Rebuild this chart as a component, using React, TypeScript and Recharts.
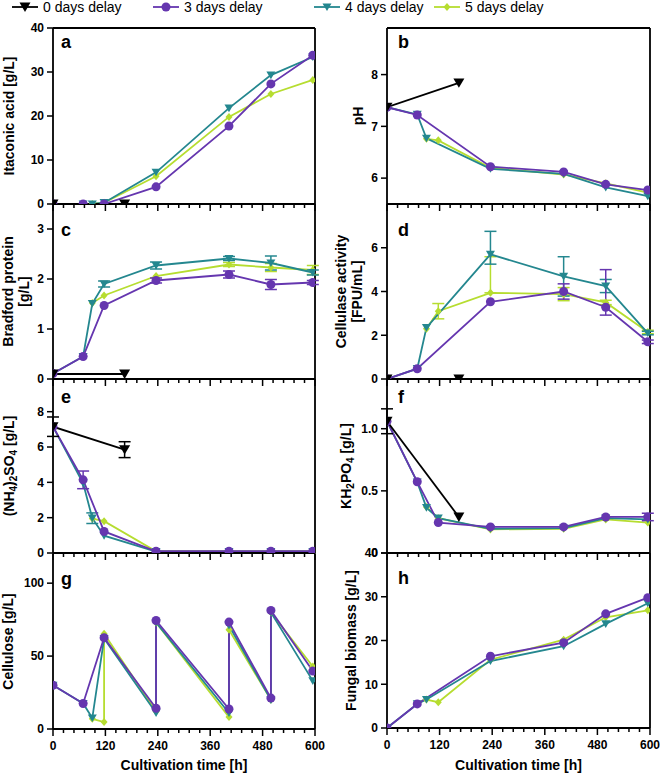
import React from "react";
import { LineChart, Line, XAxis, YAxis, ReferenceLine, ErrorBar } from "recharts";

const FONT = '"Liberation Sans", Arial, Helvetica, sans-serif';
const PURPLE = "#6536AF";
const TEAL = "#24878F";
const LIME = "#B6DD30";
const BLACK = "#000000";

// sampling times [h] per series
const t0 = [0, 164];
const t3 = [0, 69, 117, 236, 403, 499, 595];
const t4 = [0, 69, 90, 117, 236, 403, 499, 595];
const t5 = [90, 117, 236, 403, 499, 595];

// a - itaconic acid [g/L]
const ita0 = [0, 0];
const ita3 = [0, 0, 0, 3.9, 17.7, 27.3, 33.8];
const ita4 = [0, 0, 0, 0.3, 7.2, 21.8, 29.3, 33.4];
const ita5 = [0, 0.3, 6.3, 19.8, 25.0, 28.2];

// b - pH
const ph0 = [7.37, 7.84];
const ph3 = [7.37, 7.22, null, 6.22, 6.12, 5.88, 5.77];
const ph4 = [7.37, 7.23, 6.77, null, 6.18, 6.08, 5.82, 5.65];
const ph5 = [6.76, 6.73, 6.2, 6.07, 5.9, 5.72];

// c - bradford protein [g/L]
const bp0 = [0.1, 0.1];
const bp3 = [0.11, 0.45, 1.47, 1.97, 2.09, 1.89, 1.93];
const bp4 = [0.11, 0.45, 1.51, 1.9, 2.27, 2.41, 2.32, 2.13];
const bp5 = [1.52, 1.67, 2.06, 2.29, 2.23, 2.18];
const bpErr3 = [null, null, null, 0.05, 0.07, 0.1, 0.04];
const bpErr4 = [null, null, null, 0.06, 0.07, 0.04, 0.14, 0.05];
const bpErr5 = [null, null, null, 0.04, 0.08, 0.09];

// d - cellulase activity [FPU/mL]
const ca0 = [0, 0];
const ca3 = [0, 0.47, null, 3.53, 4.0, 3.28, 1.7];
const ca4 = [0, 0.47, 2.35, null, 5.7, 4.69, 4.25, 2.1];
const ca5 = [2.3, 3.1, 3.94, 3.88, 3.5, 2.15];
const caErr3 = [null, null, null, null, 0.35, [0.36, 1.72], 0.08];
const caErr4 = [null, null, null, null, [0.45, 1.05], 0.9, 0.3, 0.08];
const caErr5 = [null, 0.35, [0, 1.65], 0.3, 0.1, 0.08];

// e - (NH4)2SO4 [g/L]
const am0 = [7.15, 5.85];
const am3 = [7.15, 4.14, 1.22, 0.1, 0.1, 0.1, 0.1];
const am4 = [7.15, 3.95, 1.97, 0.98, 0.08, 0.08, 0.08, 0.08];
const am5 = [1.95, 1.8, 0.1, 0.1, 0.1, 0.1];
const amErr0 = [0.55, 0.45];
const amErr3 = [null, 0.5, null, null, null, null, null];
const amErr4 = [null, null, 0.3, null, null, null, null, null];

// f - KH2PO4 [g/L]
const kp0 = [1.06, 0.29];
const kp3 = [1.06, 0.573, 0.245, 0.21, 0.21, 0.29, 0.29];
const kp4 = [1.06, 0.57, 0.365, 0.28, 0.195, 0.2, 0.28, 0.27];
const kp5 = [0.37, 0.28, 0.19, 0.195, 0.27, 0.245];
const kpErr0 = [0.1, null];
const kpErr3 = [null, null, null, null, null, null, 0.03];

// g - cellulose [g/L] (feeding gives repeated times)
const tc3 = [0, 69, 117, 236, 236, 403, 403, 499, 499, 595];
const cel3 = [30, 17.5, 62.6, 14.2, 74.4, 13.7, 73.3, 21.2, 81.3, 39.7];
const tc4 = [0, 69, 90, 117, 236, 236, 403, 403, 499, 499, 595];
const cel4 = [30, 17.5, 7.5, 62, 11, 73, 11, 71, 20, 80, 33];
const tc5 = [90, 117, 117, 236, 236, 403, 403, 499, 499, 595];
const cel5 = [7, 4.8, 65.3, 12, 73, 8.2, 68, 20, 80, 42.9];

// h - fungal biomass [g/L]
const fb3 = [0, 5.5, null, 16.4, 19.5, 26.1, 29.8];
const fb4 = [0, 5.5, 6.5, null, 15.3, 18.7, 23.8, 28.5];
const fb5 = [6.5, 5.9, 15.6, 20.2, 25.3, 26.9];

const xTicks = Array.from({ length: 26 }, (_, i) => i * 24);

type Shape = "circle" | "tri" | "bigtri" | "diamond";

function pts(times: number[], vals: (number | null)[], errs?: any[]) {
  return times
    .map((t, i) => ({ t, v: vals[i], e: errs ? errs[i] : null }))
    .filter((p) => p.v !== null);
}

function Marker({ shape, color, cx, cy }: { shape: Shape; color: string; cx: number; cy: number }) {
  if (shape === "circle") return <circle cx={cx} cy={cy} r={4.5} fill={color} />;
  if (shape === "diamond")
    return <polygon points={`${cx},${cy - 4} ${cx + 3.5},${cy} ${cx},${cy + 4} ${cx - 3.5},${cy}`} fill={color} />;
  const s = shape === "bigtri" ? 5.5 : 4.5;
  return <polygon points={`${cx - s},${cy - s * 0.8} ${cx + s},${cy - s * 0.8} ${cx},${cy + s * 0.9}`} fill={color} />;
}

const makeDot = (shape: Shape, color: string) => (p: any) => {
  if (p.cx == null || p.cy == null) return <g key={p.index} />;
  return <Marker key={p.index} shape={shape} color={color} cx={p.cx} cy={p.cy} />;
};

function XTick(props: any) {
  const { x, y, payload, showLabel } = props;
  const v = payload.value;
  const major = v % 120 === 0;
  return (
    <g>
      <line x1={x} x2={x} y1={y} y2={y + (major ? 7 : 4)} stroke="#000" strokeWidth={1.5} />
      {showLabel && major ? (
        <text x={x} y={y + 21} textAnchor="middle" fontFamily={FONT} fontWeight={700} fontSize={12} fill="#000">
          {v}
        </text>
      ) : null}
    </g>
  );
}

type Series = { data: any[]; color: string; shape: Shape; err?: boolean };

type PanelProps = {
  col: 0 | 1;
  top: number;
  bottom: number;
  domain: [number, number];
  ticks: number[];
  fmt?: (v: number) => string;
  title: React.ReactNode[];
  titleX: number;
  letter: string;
  letterY: number;
  series: Series[];
  last?: boolean;
  topLine?: boolean;
};

function Panel(p: PanelProps) {
  const left = p.col === 0 ? 0 : 330;
  const yW = p.col === 0 ? 53 : 57;
  const mr = p.col === 0 ? 15 : 10;
  const xH = p.last ? 47 : 10;
  const h = 10 + (p.bottom - p.top) + xH;
  const offY = p.top - 10;
  const plotL = left + yW;
  const plotR = 330 + left - mr;
  const cy = (p.top + p.bottom) / 2 - offY;
  const n = p.title.length;

  const yLabel = () => (
    <g>
      <text
        transform={`translate(${p.titleX - left},${cy}) rotate(-90)`}
        textAnchor="middle"
        fontFamily={FONT}
        fontWeight={700}
        fontSize={14}
        fill="#000"
      >
        {p.title.map((l, i) => (
          <tspan key={i} x={0} y={(i - (n - 1) / 2) * 16 + 5}>
            {l}
          </tspan>
        ))}
      </text>
      <text
        x={(p.col === 0 ? 61 : 398) - left}
        y={p.letterY - offY}
        fontFamily={FONT}
        fontWeight={700}
        fontSize={18}
        fill="#000"
      >
        {p.letter}
      </text>
    </g>
  );

  const xLabel = () =>
    p.last ? (
      <text
        x={(plotL + plotR) / 2 - left}
        y={770 - offY}
        textAnchor="middle"
        fontFamily={FONT}
        fontWeight={700}
        fontSize={14}
        fill="#000"
      >
        Cultivation time [h]
      </text>
    ) : (
      <g />
    );

  return (
    <div style={{ position: "absolute", left, top: offY }}>
      <LineChart width={330} height={h} margin={{ top: 10, right: mr, bottom: 0, left: 0 }}>
        <XAxis
          type="number"
          dataKey="t"
          domain={[0, 600]}
          ticks={xTicks}
          interval={0}
          allowDataOverflow
          height={xH}
          tickSize={0}
          tickMargin={0}
          tickLine={false}
          axisLine={{ stroke: "#000", strokeWidth: 1.8 }}
          tick={(tp: any) => <XTick {...tp} showLabel={!!p.last} />}
          label={xLabel}
        />
        <YAxis
          type="number"
          domain={p.domain}
          ticks={p.ticks}
          interval={0}
          allowDataOverflow
          width={yW}
          tickSize={6}
          tickMargin={3}
          tickFormatter={p.fmt}
          axisLine={{ stroke: "#000", strokeWidth: 1.8 }}
          tickLine={{ stroke: "#000", strokeWidth: 1.5 }}
          tick={{ fill: "#000", fontSize: 12, fontWeight: 700, fontFamily: FONT }}
          label={yLabel}
        />
        <ReferenceLine x={600} stroke="#000" strokeWidth={1.8} />
        {p.topLine ? <ReferenceLine y={p.domain[1]} stroke="#000" strokeWidth={1.8} /> : null}
        {p.series.map((s, i) => (
          <Line
            key={i}
            data={s.data}
            dataKey="v"
            type="linear"
            stroke={s.color}
            strokeWidth={1.8}
            dot={makeDot(s.shape, s.color)}
            activeDot={false}
            isAnimationActive={false}
          >
            {s.err ? <ErrorBar dataKey="e" direction="y" width={6} stroke={s.color} strokeWidth={1.5} /> : null}
          </Line>
        ))}
      </LineChart>
    </div>
  );
}

const legendItems: { label: string; color: string; shape: Shape; x: number }[] = [
  { label: "0 days delay", color: BLACK, shape: "bigtri", x: 12 },
  { label: "3 days delay", color: PURPLE, shape: "circle", x: 153 },
  { label: "4 days delay", color: TEAL, shape: "tri", x: 314 },
  { label: "5 days delay", color: LIME, shape: "diamond", x: 434 },
];

const sub = (s: string) => (
  <tspan fontSize={10} dy={3}>
    {s}
  </tspan>
);

export default function App() {
  const four = (a: any[], b: any[], c: any[], d?: any[], errs: boolean[] = [false, false, false, false]): Series[] => {
    const out: Series[] = [
      { data: c, color: LIME, shape: "diamond", err: errs[3] },
      { data: b, color: TEAL, shape: "tri", err: errs[2] },
      { data: a, color: PURPLE, shape: "circle", err: errs[1] },
    ];
    if (d) out.push({ data: d, color: BLACK, shape: "bigtri", err: errs[0] });
    return out;
  };

  return (
    <div style={{ position: "absolute", left: 0, top: 0, width: 660, height: 776, background: "#fff" }}>
      <style>{`.recharts-surface{overflow:visible}`}</style>
      <svg width={660} height={22} style={{ position: "absolute", left: 0, top: 0 }}>
        {legendItems.map((it) => (
          <g key={it.label}>
            <line x1={it.x} x2={it.x + 26} y1={7} y2={7} stroke={it.color} strokeWidth={1.8} />
            <Marker shape={it.shape} color={it.color} cx={it.x + 13} cy={7} />
            <text x={it.x + 31} y={12} fontFamily={FONT} fontSize={14} fill="#000">
              {it.label}
            </text>
          </g>
        ))}
      </svg>

      <Panel
        col={0}
        top={28}
        bottom={204}
        domain={[0, 40]}
        ticks={[0, 10, 20, 30, 40]}
        title={["Itaconic acid [g/L]"]}
        titleX={9}
        letter="a"
        letterY={48}
        topLine
        series={four(pts(t3, ita3), pts(t4, ita4), pts(t5, ita5), pts(t0, ita0))}
      />
      <Panel
        col={1}
        top={28}
        bottom={204}
        domain={[5.5, 8.9]}
        ticks={[6, 7, 8]}
        title={["pH"]}
        titleX={358}
        letter="b"
        letterY={48}
        topLine
        series={four(pts(t3, ph3), pts(t4, ph4), pts(t5, ph5), pts(t0, ph0))}
      />
      <Panel
        col={0}
        top={204}
        bottom={379}
        domain={[0, 3.5]}
        ticks={[0, 1, 2, 3]}
        title={["Bradford protein", "[g/L]"]}
        titleX={16}
        letter="c"
        letterY={236}
        series={four(
          pts(t3, bp3, bpErr3),
          pts(t4, bp4, bpErr4),
          pts(t5, bp5, bpErr5),
          pts(t0, bp0),
          [false, true, true, true]
        )}
      />
      <Panel
        col={1}
        top={204}
        bottom={379}
        domain={[0, 8]}
        ticks={[0, 2, 4, 6]}
        title={["Cellulase activity", "[FPU/mL]"]}
        titleX={349}
        letter="d"
        letterY={236}
        series={four(
          pts(t3, ca3, caErr3),
          pts(t4, ca4, caErr4),
          pts(t5, ca5, caErr5),
          pts(t0, ca0),
          [false, true, true, true]
        )}
      />
      <Panel
        col={0}
        top={379}
        bottom={553}
        domain={[0, 9.85]}
        ticks={[0, 2, 4, 6, 8]}
        title={[
          <>
            (NH{sub("4")}
            <tspan dy={-3}>)</tspan>
            {sub("2")}
            <tspan dy={-3}>SO</tspan>
            {sub("4")}
            <tspan dy={-3}> [g/L]</tspan>
          </>,
        ]}
        titleX={9}
        letter="e"
        letterY={403}
        series={four(
          pts(t3, am3, amErr3),
          pts(t4, am4, amErr4),
          pts(t5, am5),
          pts(t0, am0, amErr0),
          [true, true, true, false]
        )}
      />
      <Panel
        col={1}
        top={379}
        bottom={553}
        domain={[0, 1.4]}
        ticks={[0, 0.5, 1]}
        fmt={(v) => (v === 0 ? "0" : v.toFixed(1))}
        title={[
          <>
            KH{sub("2")}
            <tspan dy={-3}>PO</tspan>
            {sub("4")}
            <tspan dy={-3}> [g/L]</tspan>
          </>,
        ]}
        titleX={346}
        letter="f"
        letterY={403}
        series={four(
          pts(t3, kp3, kpErr3),
          pts(t4, kp4),
          pts(t5, kp5),
          pts(t0, kp0, kpErr0),
          [true, true, false, false]
        )}
      />
      <Panel
        col={0}
        top={554}
        bottom={729}
        domain={[0, 120]}
        ticks={[0, 50, 100]}
        title={["Cellulose [g/L]"]}
        titleX={8}
        letter="g"
        letterY={585}
        last
        series={four(pts(tc3, cel3), pts(tc4, cel4), pts(tc5, cel5))}
      />
      <Panel
        col={1}
        top={553}
        bottom={728}
        domain={[0, 40]}
        ticks={[0, 10, 20, 30, 40]}
        title={["Fungal biomass [g/L]"]}
        titleX={351}
        letter="h"
        letterY={584}
        last
        series={four(pts(t3, fb3), pts(t4, fb4), pts(t5, fb5))}
      />
    </div>
  );
}
